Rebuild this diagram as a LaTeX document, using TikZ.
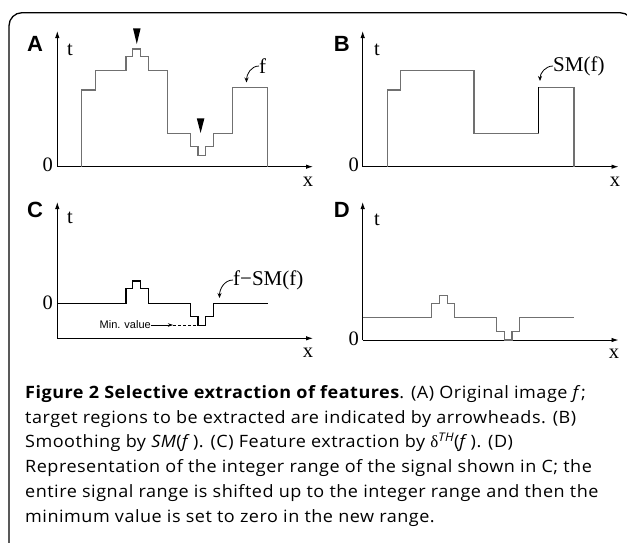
\documentclass[tikz,border=0pt]{standalone}
\usepackage{fontspec}
\setmainfont{Open Sans}[FakeStretch=1.06,LetterSpace=3]
\newfontfamily\tms{Liberation Serif}
\newfontfamily\arl{Liberation Sans}
\usetikzlibrary{arrows.meta}
\definecolor{sg}{HTML}{707070}
\begin{document}
\begin{tikzpicture}[x=1pt,y=-1pt,
  axis/.style={line width=0.9pt,-{Latex[length=7pt,width=4.5pt]}},
  sig/.style={line width=1.2pt,draw=sg,line join=miter},
  sigk/.style={line width=1.1pt,draw=black,line join=miter},
  plab/.style={font=\arl\bfseries\fontsize{22}{22}\selectfont,inner sep=0pt},
  tx/.style={font=\tms\fontsize{20.5}{20.5}\selectfont,inner sep=0pt},
  flab/.style={font=\tms\fontsize{21}{21}\selectfont,inner sep=0pt,anchor=west},
  curv/.style={line width=0.8pt,-{Stealth[length=5pt,width=4pt]}},
  captxt/.style={font=\fontsize{17}{17}\selectfont,inner sep=0pt,anchor=base west},
  tri/.style={fill=black}]
\useasboundingbox (0,0) rectangle (627,542);
% frame
\draw[line width=1.3pt,rounded corners=13pt] (9,560) -- (9,12.7) -- (633,12.7) -- (633,40);
% ---------- Panel A
\node[plab] (la) at (35,44) {A};
\draw[axis] (57.3,166.7) -- (57.3,31);
\draw[axis] (57.3,166.7) -- (313,166.7);
\node[tx] (ta) at (70,50) {t};
\node[tx,anchor=east] (za) at (53,165) {0};
\node[tx] (xa) at (308,182) {x};
\draw[sig] (81.7,166.7) -- (81.7,90) -- (95.7,90) -- (95.7,70.7) -- (126,70.7) -- (126,56.7) -- (132.7,56.7) -- (132.7,49) -- (140.7,49) -- (140.7,56.7) -- (148.3,56.7) -- (148.3,70.7) -- (167.3,70.7) -- (167.3,133.3) -- (190.7,133.3) -- (190.7,146.7) -- (198,146.7) -- (198,155.7) -- (205.7,155.7) -- (205.7,146.7) -- (213.3,146.7) -- (213.3,133.3) -- (232.3,133.3) -- (232.3,87.3) -- (267.7,87.3) -- (267.7,166.7);
\fill[tri] (133,28.3) -- (140.6,28.3) -- (136.8,44) -- cycle;
\fill[tri] (196.8,118.3) -- (204.4,118.3) -- (200.6,133) -- cycle;
\node[flab] (fa) at (259,66) {f};
\coordinate (fat) at (246.5,82.5);
\draw[curv] (fa.west) to[out=180,in=90] (fat);
% ---------- Panel B
\node[plab] (lb) at (341.7,44) {B};
\draw[axis] (362.7,166.7) -- (362.7,31);
\draw[axis] (362.7,166.7) -- (618.5,166.7);
\node[tx] (tb) at (377,50) {t};
\node[tx,anchor=east] (zb) at (359,165) {0};
\node[tx] (xb) at (615,182) {x};
\draw[sig] (387.3,166.7) -- (387.3,90) -- (400.7,90) -- (400.7,70.7) -- (474,70.7) -- (474,133.3) -- (538.7,133.3) -- (538.7,87.3) -- (574,87.3) -- (574,166.7);
\draw[line width=1.1pt] (538.7,133.3) -- (538.7,87.3);
\node[flab] (fb) at (553,66) {SM(f)};
\coordinate (fbt) at (540,81);
\draw[curv] (fb.west) to[out=180,in=90] (fbt);
% ---------- Panel C
\node[plab] (lc) at (35,210) {C};
\draw[axis] (57.3,338.3) -- (57.3,202);
\draw[axis] (57.3,338.3) -- (313,338.3);
\node[tx] (tc) at (70,218) {t};
\node[tx,anchor=east] (zc) at (53,303) {0};
\node[tx] (xc) at (308,353) {x};
\draw[sigk] (57.3,303.3) -- (126,303.3) -- (126,288.3) -- (132.7,288.3) -- (132.7,281) -- (140.7,281) -- (140.7,288.3) -- (148.3,288.3) -- (148.3,303.3) -- (190.7,303.3) -- (190.7,316.7) -- (198,316.7) -- (198,325.3) -- (205.7,325.3) -- (205.7,316.7) -- (213.3,316.7) -- (213.3,303.3) -- (267.7,303.3);
\node[flab] (fc) at (233,280) {f−SM(f)};
\coordinate (fct) at (219.5,298);
\draw[curv] (fc.west) to[out=180,in=90] (fct);
\node[font=\arl\fontsize{11}{11}\selectfont,inner sep=0pt,anchor=east] (mv) at (151,325) {Min. value};
\coordinate (mva) at (173,325);
\coordinate (mvb) at (197.5,325);
\draw[line width=0.7pt,-{Stealth[length=5pt,width=3.5pt]}] (mv.east) -- (mva);
\draw[line width=0.7pt,dash pattern=on 3pt off 2pt] (mva) -- (mvb);
% ---------- Panel D
\node[plab] (ld) at (341.7,210) {D};
\draw[axis] (362.7,340) -- (362.7,202);
\draw[axis] (362.7,340) -- (618.5,340);
\node[tx] (td) at (377,220) {t};
\node[tx,anchor=east] (zd) at (359,339) {0};
\node[tx] (xd) at (614,354) {x};
\draw[sig] (362.7,317.3) -- (431.7,317.3) -- (431.7,303.3) -- (439.3,303.3) -- (439.3,295.7) -- (447.3,295.7) -- (447.3,303.3) -- (454.3,303.3) -- (454.3,317.3) -- (496.7,317.3) -- (496.7,331.7) -- (504.3,331.7) -- (504.3,340) -- (512,340) -- (512,331.7) -- (519.3,331.7) -- (519.3,317.3) -- (574,317.3);
% ---------- Caption
\node[captxt] (c1) at (25,398.3) {\textbf{Figure 2 Selective extraction of features}. (A) Original image \textit{f};};
\node[captxt] (c2) at (25,423.1) {target regions to be extracted are indicated by arrowheads. (B)};
\node[captxt] (c3) at (25,447.9) {Smoothing by \textit{SM}(\textit{f}\,). (C) Feature extraction by {\tms δ}\textsuperscript{\itshape TH}(\textit{f}\,). (D)};
\node[captxt] (c4) at (25,472.7) {Representation of the integer range of the signal shown in C; the};
\node[captxt] (c5) at (25,497.5) {entire signal range is shifted up to the integer range and then the};
\node[captxt] (c6) at (25,522.3) {minimum value is set to zero in the new range.};
\end{tikzpicture}
\end{document}
